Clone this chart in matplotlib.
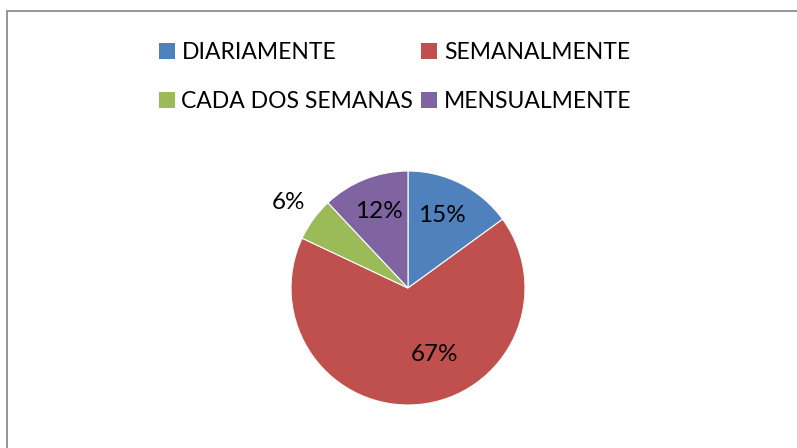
import matplotlib
matplotlib.use("Agg")
import matplotlib.pyplot as plt
from matplotlib.patches import Rectangle, Patch
import numpy as np

categories = ["DIARIAMENTE", "SEMANALMENTE", "CADA DOS SEMANAS", "MENSUALMENTE"]
values = [15, 67, 6, 12]
colors = ["#4F81BD", "#C0504D", "#9BBB59", "#8064A2"]
# label positions (fraction of radius, x / y) - layout only
label_pos = [(0.29, 0.62), (0.23, -0.57), (-1.02, 0.73), (-0.25, 0.65)]

plt.rcParams['font.family'] = ['Lato', 'DejaVu Sans']

W, H = 797, 448
fig = plt.figure(figsize=(W / 100, H / 100), dpi=100)
fig.patch.set_facecolor("white")

# outer border
fig.patches.append(Rectangle((7.5 / W, -0.1), 1.2, (H - 11) / H + 0.1,
                             transform=fig.transFigure, fill=False,
                             edgecolor="#8C8C8C", linewidth=1.3))

cx, cy, r = 408, 288, 117
ax = fig.add_axes([(cx - r) / W, (H - cy - r) / H, 2 * r / W, 2 * r / H])
wedges, texts, autotexts = ax.pie(values, colors=colors, startangle=90,
                                  counterclock=False, autopct="%1.0f%%",
                                  wedgeprops=dict(edgecolor="white", linewidth=0.8),
                                  textprops=dict(fontsize=17.5, color="black"))
for t, (px, py) in zip(autotexts, label_pos):
    t.set_position((px, py))
    t.set_clip_on(False)
ax.set_xlim(-1, 1)
ax.set_ylim(-1, 1)
ax.set_aspect("equal")

# legend filled row-wise: matplotlib fills column-wise, so reorder
order = [0, 2, 1, 3]
handles = [Patch(facecolor=colors[i], edgecolor="none") for i in order]
labels = [categories[i] for i in order]
fig.legend(handles, labels, ncol=2, loc="upper left",
           bbox_to_anchor=(159 / W, 1 - 42 / H), frameon=False,
           fontsize=16.5, handlelength=0.68, handleheight=0.68,
           handletextpad=0.3, columnspacing=0.35, labelspacing=1.22,
           borderaxespad=0, borderpad=0)

fig.savefig("out.png", dpi=100, facecolor="white")
